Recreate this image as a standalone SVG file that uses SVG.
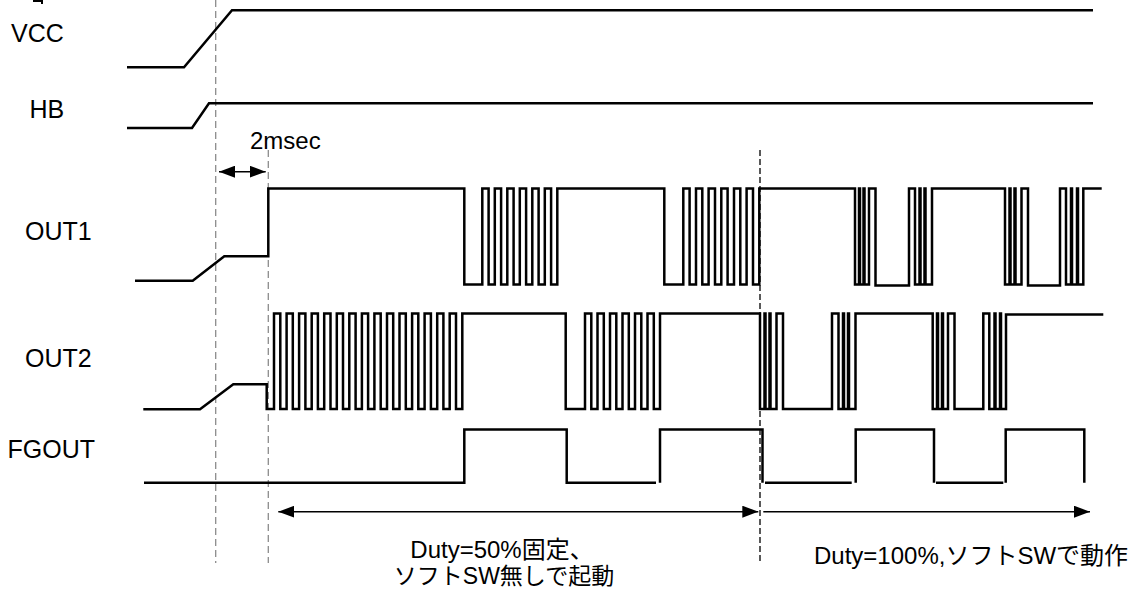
<svg xmlns="http://www.w3.org/2000/svg" width="1137" height="590" viewBox="0 0 1137 590">
<style>
.lbl{font-family:"Liberation Sans","Noto Sans CJK JP",sans-serif;font-size:25px;fill:#000}
.txt{font-family:"Liberation Sans","Noto Sans CJK JP",sans-serif;font-size:24px;fill:#000}
.sig{fill:none;stroke:#000;stroke-width:2.5;stroke-linejoin:miter;stroke-linecap:butt}
.gdash{stroke:#8c8c8c;stroke-width:1.3;stroke-dasharray:7 4;fill:none}
.kdash{stroke:#000;stroke-width:1.3;stroke-dasharray:6 3;fill:none}
.arr{stroke:#000;stroke-width:1.5;fill:none}
</style>
<defs>
<marker id="ah" viewBox="0 0 16 12" refX="16" refY="6" markerWidth="16" markerHeight="12" markerUnits="userSpaceOnUse" orient="auto-start-reverse">
<path d="M0,0 L16,6 L0,12 Z" fill="#000"/>
</marker>
</defs>
<rect width="1137" height="590" fill="#fff"/>
<path d="M33,1 H42 V4" stroke="#000" stroke-width="2" fill="none"/>
<g id="guides">
<line class="gdash" x1="215.7" y1="0" x2="215.7" y2="563"/>
<line class="gdash" x1="268.3" y1="150" x2="268.3" y2="563"/>
<line class="kdash" x1="760" y1="150" x2="760" y2="563"/>
</g>
<g id="vcc">
<text class="lbl" x="11" y="42">VCC</text>
<path class="sig" d="M127,67.3 H184 L232,10.3 H1093"/>
</g>
<g id="hb">
<text class="lbl" x="29.5" y="118.3">HB</text>
<path class="sig" d="M127,128 H192 L209,103.3 H1093"/>
</g>
<g id="out1">
<text class="lbl" x="25" y="240">OUT1</text>
<path class="sig" d="M135,280.7 H192.7 L224.3,256.3 H268.3 V188.5 H464.3 V284.5 H482.3 V188.5 H488.6 V284.5 H494.8 V188.5 H501.1 V284.5 H507.3 V188.5 H513.6 V284.5 H519.8 V188.5 H526.1 V284.5 H532.3 V188.5 H538.6 V284.5 H544.8 V188.5 H551.1 V284.5 H557.3 V188.5 H664.3 V284.5 H683.3 V188.5 H689.6 V284.5 H696 V188.5 H702.3 V284.5 H708.6 V188.5 H715 V284.5 H721.3 V188.5 H727.6 V284.5 H734 V188.5 H740.3 V284.5 H746.6 V188.5 H753 V284.5 H759.3 V188.5 H855 V284.5 H859 V188.5 H860 V284.5 H863.5 V188.5 H864.5 V284.5 H869 V188.5 H875.5 V285.5 H909 V188.5 H915 V284.5 H919.5 V188.5 H920.5 V284.5 H924.5 V188.5 H925.5 V284.5 H932 V188.5 H1005 V284.5 H1009.5 V188.5 H1010.5 V284.5 H1014.5 V188.5 H1015.5 V284.5 H1021.5 V188.5 H1028 V285.5 H1060 V188.5 H1066 V284.5 H1071 V188.5 H1072 V284.5 H1077 V188.5 H1078 V284.5 H1083.3 V188.5 H1101.7"/>
</g>
<g id="out2">
<text class="lbl" x="25" y="367.3">OUT2</text>
<path class="sig" d="M143.3,409.3 H200 L233.3,384.3 H266.7 V409 H274 V313.5 H280.3 V409 H286.6 V313.5 H292.8 V409 H299.1 V313.5 H305.4 V409 H311.7 V313.5 H317.9 V409 H324.2 V313.5 H330.5 V409 H336.8 V313.5 H343 V409 H349.3 V313.5 H355.6 V409 H361.9 V313.5 H368.1 V409 H374.4 V313.5 H380.7 V409 H387 V313.5 H393.2 V409 H399.5 V313.5 H405.8 V409 H412.1 V313.5 H418.3 V409 H424.6 V313.5 H430.9 V409 H437.2 V313.5 H443.4 V409 H449.7 V313.5 H456 V409 H462.3 V313.5 H565.7 V409 H585 V313.5 H591.3 V409 H597.5 V313.5 H603.8 V409 H610 V313.5 H616.3 V409 H622.5 V313.5 H628.8 V409 H635 V313.5 H641.3 V409 H647.5 V313.5 H653.8 V409 H660 V313.5 H760 V409 H764.5 V313.5 H765.5 V409 H769.5 V313.5 H770.5 V409 H776.5 V313.5 H783 V409 H832 V313.5 H838.5 V409 H843 V313.5 H844 V409 H848 V313.5 H849 V409 H855.5 V313.5 H932.7 V409 H937 V313.5 H938 V409 H942 V313.5 H943 V409 H948 V313.5 H954.5 V409 H983.3 V313.5 H989.3 V409 H994.5 V313.5 H995.5 V409 H1000 V313.5 H1001 V409 H1006 V314.5 H1103.3"/>
</g>
<g id="fgout">
<text class="lbl" x="7.5" y="458.3">FGOUT</text>
<path class="sig" d="M144,482.7 H464.3 V429.5 H566.7 V482.7 H656 M660,482.7 V429.5 H762.5 V482.7 M765,482.7 H851.7 M855.7,482.7 V429.5 H934 V482.7 M936,482.7 H1003.3 M1005.7,482.7 V429.5 H1084.3 V482.7"/>
</g>
<g id="connectors">
<line class="arr" x1="219" y1="171.7" x2="265.7" y2="171.7" marker-start="url(#ah)" marker-end="url(#ah)"/>
<line class="arr" x1="278.3" y1="511.7" x2="758.3" y2="511.7" marker-start="url(#ah)" marker-end="url(#ah)"/>
<line class="arr" x1="763.3" y1="511.7" x2="1090" y2="511.7" marker-end="url(#ah)"/>
</g>
<g id="labels">
<text class="txt" x="250" y="149">2msec</text>
<text class="txt" x="502" y="558" text-anchor="middle">Duty=50%固定、</text>
<text class="txt" x="504" y="583.5" text-anchor="middle" style="font-size:23px">ソフトSW無しで起動</text>
<text class="txt" x="814" y="564">Duty=100%,ソフトSWで動作</text>
</g>
</svg>
